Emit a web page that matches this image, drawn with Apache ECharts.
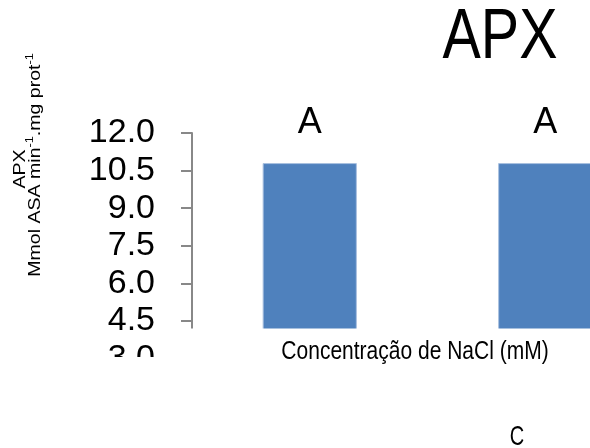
<!DOCTYPE html>
<html>
<head>
<meta charset="utf-8">
<script src="https://cdn.jsdelivr.net/npm/echarts@6/dist/echarts.min.js"></script>
<style>
  html, body { margin: 0; padding: 0; background: #ffffff; }
  #chart { width: 590px; height: 448px; }
</style>
</head>
<body>
<div id="chart"></div>
<script>
// APX activity per NaCl treatment
const categories = ['1', '2'];
const apxValues = [10.8, 10.8];
const groupLetters = ['A', 'A'];

// value axis range and step
const yMin = 3.0;
const yMax = 12.0;
const yStep = 1.5;

// texts
const chartTitle = 'APX';
const xAxisTitle = 'Concentração de NaCl (mM)';
const yAxisTitleLine1 = 'APX';
const yAxisTitleLine2 = 'Mmol ASA min{sup|-1}.mg prot{sup|-1}';
// letter belonging to the panel below
const lowerLetters = ['C'];

const FONT = 'Liberation Sans, Arial, sans-serif';

const chart = echarts.init(document.getElementById('chart'), null, { renderer: 'canvas' });

const option = {
  backgroundColor: '#ffffff',
  animation: false,
  grid: {
    left: 192,
    top: 133,
    width: 471,
    height: 225.6,
    containLabel: false,
    outerBoundsMode: 'none'
  },
  xAxis: {
    type: 'category',
    data: categories,
    axisLine: { show: false },
    axisTick: { show: false },
    axisLabel: { show: false }
  },
  yAxis: {
    type: 'value',
    min: yMin,
    max: yMax,
    interval: yStep,
    z: 0,
    splitLine: { show: false },
    axisLine: { show: true, lineStyle: { color: '#888888', width: 2 } },
    axisTick: { show: true, length: 11, lineStyle: { color: '#888888', width: 2 } },
    axisLabel: {
      margin: 37,
      fontFamily: FONT,
      fontSize: 34,
      color: '#000000',
      formatter: v => v.toFixed(1)
    }
  },
  series: [{
    type: 'bar',
    data: apxValues,
    barCategoryGap: '60%',
    itemStyle: { color: '#4F81BD', borderColor: '#A9C0DF', borderWidth: 1 },
    label: {
      show: true,
      position: 'top',
      distance: 22,
      fontFamily: FONT,
      fontSize: 36,
      color: '#000000',
      formatter: p => groupLetters[p.dataIndex]
    }
  }],
  graphic: [
    // white band where the lower panel overlaps the plot
    {
      type: 'rect', z: 50, silent: true,
      shape: { x: 181, y: 328.5, width: 420, height: 30 },
      style: { fill: '#ffffff' }
    },
    {
      type: 'rect', z: 50, silent: true,
      shape: { x: 60, y: 357, width: 540, height: 100 },
      style: { fill: '#ffffff' }
    },
    // chart title
    {
      type: 'text', z: 60, silent: true,
      x: 500, y: 39, scaleX: 0.82,
      style: {
        text: chartTitle,
        fontFamily: FONT,
        fontSize: 70,
        fill: '#000000',
        align: 'center',
        verticalAlign: 'middle'
      }
    },
    // category axis title
    {
      type: 'text', z: 60, silent: true,
      x: 415, y: 352, scaleY: 1.25,
      style: {
        text: xAxisTitle,
        fontFamily: FONT,
        fontSize: 21,
        fill: '#000000',
        align: 'center',
        verticalAlign: 'middle'
      }
    },
    // rotated value axis title, first line
    {
      type: 'text', z: 60, silent: true,
      x: 20, y: 169, rotation: Math.PI / 2, scaleX: 1.15,
      style: {
        text: yAxisTitleLine1,
        fontFamily: FONT,
        fontSize: 17,
        fill: '#000000',
        align: 'center',
        verticalAlign: 'middle'
      }
    },
    // rotated value axis title, second line with superscripts
    {
      type: 'text', z: 60, silent: true,
      x: 35, y: 165, rotation: Math.PI / 2, scaleX: 1.15,
      style: {
        text: yAxisTitleLine2,
        fontFamily: FONT,
        fontSize: 17,
        lineHeight: 22,
        fill: '#000000',
        align: 'center',
        verticalAlign: 'middle',
        rich: {
          sup: { fontSize: 11, verticalAlign: 'top', lineHeight: 6, fontFamily: FONT }
        }
      }
    },
    {
      type: 'text', z: 60, silent: true,
      x: 517, y: 437, scaleY: 1.4,
      style: {
        text: lowerLetters[0],
        fontFamily: FONT,
        fontSize: 20,
        fill: '#000000',
        align: 'center',
        verticalAlign: 'middle'
      }
    }
  ]
};

chart.setOption(option);
</script>
</body>
</html>
